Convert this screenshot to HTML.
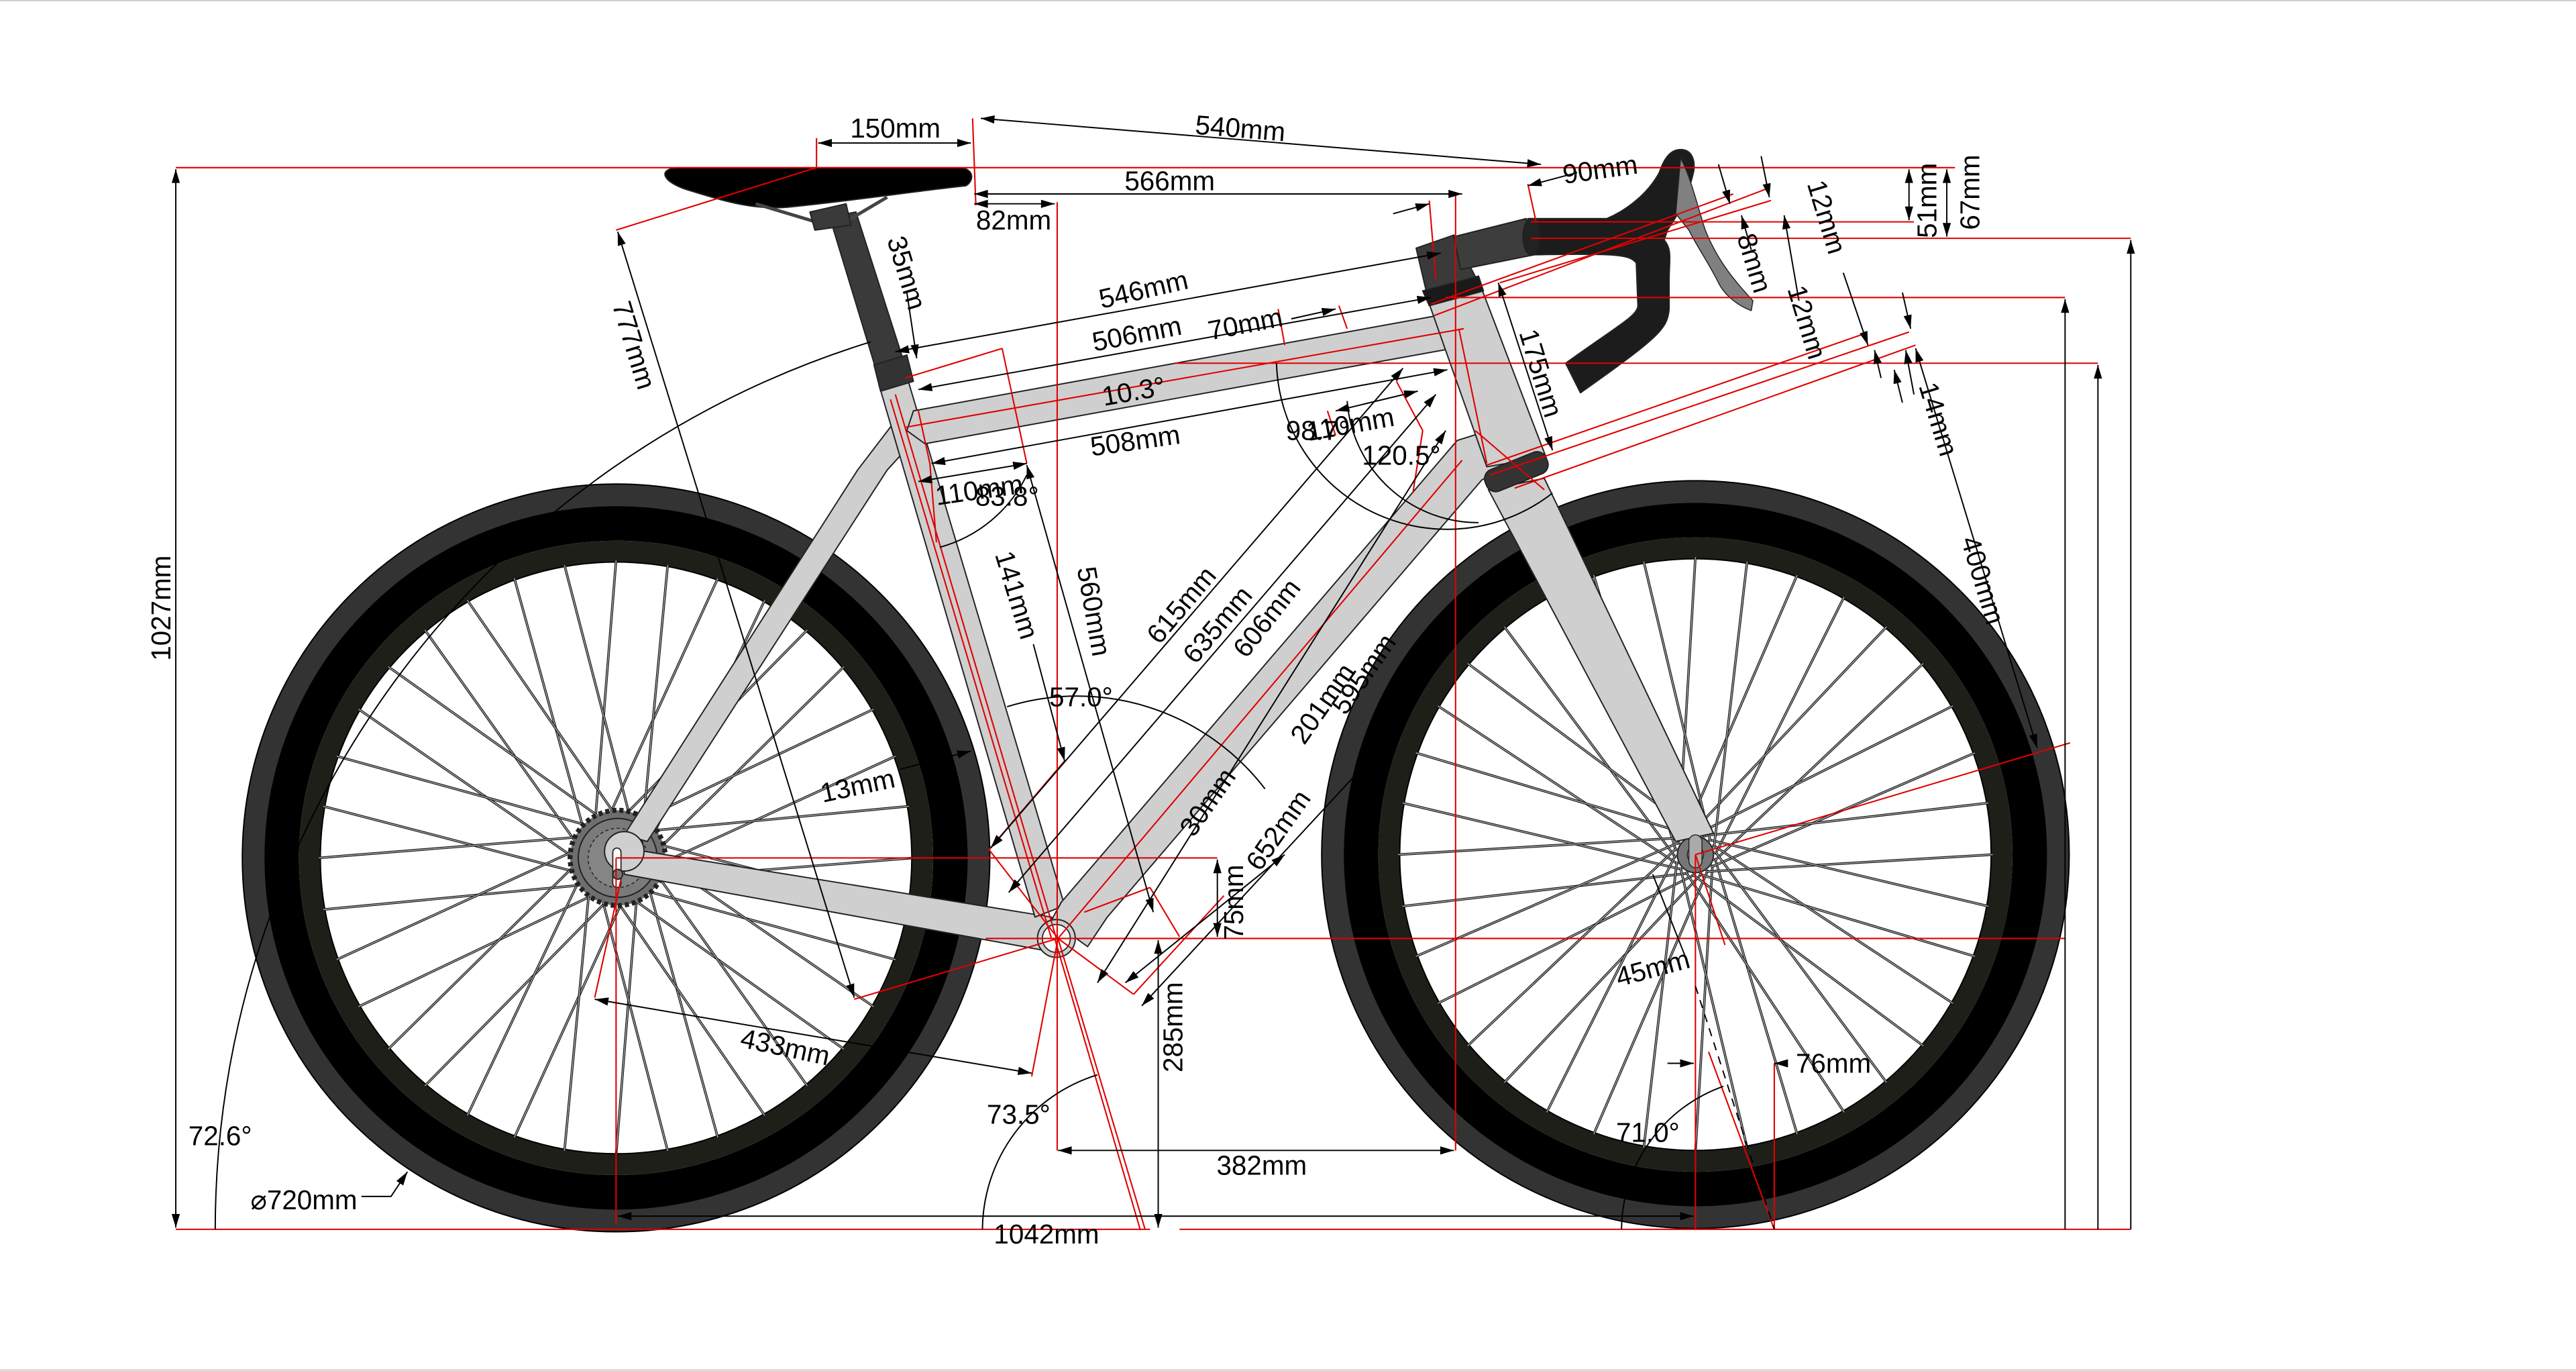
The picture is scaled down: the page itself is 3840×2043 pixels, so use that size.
<!DOCTYPE html>
<html><head><meta charset="utf-8"><style>
html,body{margin:0;padding:0;background:#fff;}
svg{display:block;}
text{font-family:"Liberation Sans",Arial,sans-serif;font-size:16.5px;fill:#000;}
</style></head><body>
<svg id="s" width="3840" height="2043" viewBox="0 0 1568 834.2" xmlns="http://www.w3.org/2000/svg">
<defs>
<marker id="a" viewBox="0 0 10 6" refX="10" refY="3" markerWidth="9" markerHeight="5" orient="auto-start-reverse" markerUnits="userSpaceOnUse"><path d="M0,0 L10,3 L0,6 Z" fill="#000"/></marker>
</defs>
<rect width="1568" height="834.2" fill="#fff"/>
<line x1="0" y1="0.4" x2="1568" y2="0.4" stroke="#d0d0d0" stroke-width="0.8"/>
<line x1="0" y1="833.6" x2="1568" y2="833.6" stroke="#d0d0d0" stroke-width="0.8"/>

<g>
<circle cx="375" cy="522" r="220.5" fill="none" stroke="#333" stroke-width="14"/>
<circle cx="375" cy="522" r="203.5" fill="none" stroke="#000" stroke-width="21"/>
<circle cx="375" cy="522" r="186.5" fill="none" stroke="#1f1f1a" stroke-width="13"/>
<circle cx="375" cy="522" r="227.5" fill="none" stroke="#000" stroke-width="0.8"/>
<circle cx="375" cy="522" r="180" fill="none" stroke="#000" stroke-width="0.8"/>
<circle cx="1032" cy="520" r="220.5" fill="none" stroke="#333" stroke-width="14"/>
<circle cx="1032" cy="520" r="203.5" fill="none" stroke="#000" stroke-width="21"/>
<circle cx="1032" cy="520" r="186.5" fill="none" stroke="#1f1f1a" stroke-width="13"/>
<circle cx="1032" cy="520" r="227.5" fill="none" stroke="#000" stroke-width="0.8"/>
<circle cx="1032" cy="520" r="180" fill="none" stroke="#000" stroke-width="0.8"/>
</g>
<g id="spk"></g>

<circle cx="376" cy="522" r="29" fill="#6e6e6e" stroke="#222" stroke-width="3" stroke-dasharray="2.5 1.8"/>
<circle cx="376" cy="522" r="24" fill="#7a7a7a" stroke="#222" stroke-width="0.8"/>
<circle cx="376" cy="522" r="18" fill="#858585" stroke="#222" stroke-width="0.6" stroke-dasharray="2 1.5"/>
<circle cx="1032" cy="520" r="11" fill="#777" stroke="#222" stroke-width="0.8"/>
<circle cx="1032" cy="520" r="5" fill="#999" stroke="#222" stroke-width="0.6"/>

<g stroke="#222" stroke-width="0.8" stroke-linejoin="round">
<polygon points="380,508 522,286 548,252 562,262 540,286 394,512" fill="#cfcfcf"/>
<polygon points="380,516 640,558 645,580 380,532" fill="#cfcfcf"/>
<polygon points="535,234 552,229 648,551 630,558" fill="#cfcfcf"/>
<polygon points="640,560 646,549 887,268 906,262 916,285 902,292 674,558 662,576" fill="#cfcfcf"/>
<polygon points="556,250 875,192 888,200 884,212 563,270 552,262" fill="#cfcfcf"/>
<polygon points="870,185 902,176 941,278 905,284" fill="#cfcfcf"/>
<polygon points="906,298 940,291 1043,507 1020,512" fill="#cfcfcf"/>
<polygon points="862,151 885,143 902,176 870,185" fill="#3a3a3a"/>
<polygon points="866,177 900,168 903,177 870,186" fill="#1a1a1a"/>
<rect x="903" y="280" width="40" height="14" rx="6" transform="rotate(-22 923 287)" fill="#333"/>
<polygon points="505,132 521,129 553,229 536,234" fill="#3a3a3a"/>
<polygon points="532,222 552,216 556,232 536,238" fill="#333"/>
<circle cx="643" cy="571" r="11.5" fill="#cfcfcf" stroke="#222"/>
<circle cx="643" cy="571" r="8.5" fill="#fff" stroke="#222" stroke-width="0.7"/>
<circle cx="380" cy="518" r="12" fill="#cfcfcf" stroke="#222"/>
<rect x="373" y="516" width="5" height="24" rx="2.5" fill="#fff" stroke="#222" stroke-width="0.7"/>
<circle cx="376" cy="532" r="3" fill="#777"/>
<rect x="1028" y="508" width="8" height="20" rx="4" fill="#aaa" stroke="#222" stroke-width="0.6"/>
<polygon points="885,144 929,133 934,155 889,164" fill="#3d3d3d"/>
<path d="M930,133 L978,133 C990,128 1003,118 1010,105 C1013,96 1017,91 1023,91 C1029,91 1032,96 1031,104 C1028,118 1022,130 1015,140 L1013,146 C1018,152 1016,158 1016,170 L1016,188 C1015,200 1010,205 962,239 L953,221 C985,198 997,192 997,186 L996,160 C992,155 985,154 934,155 Z" fill="#1c1c1c"/>
<ellipse cx="932" cy="144" rx="5" ry="11" fill="#222"/>
<path d="M1023,96 C1030,110 1033,125 1038,140 C1046,160 1057,172 1067,183 L1066,189 C1058,186 1050,180 1046,172 C1040,160 1033,150 1028,140 L1020,130 Z" fill="#808080" stroke="#222" stroke-width="0.6"/>
<path d="M412,102 L585,102 C593,103 593,110 588,113 C560,116 520,122 480,126 C458,128 440,122 420,116 C403,111 400,103 412,102 Z" fill="#000"/>
<path d="M460,124 L500,136 L518,133 L540,120" fill="none" stroke="#444" stroke-width="2"/>
<polygon points="493,129 515,124 518,137 496,140" fill="#3a3a3a"/>
</g>

<g stroke="#e00000" stroke-width="0.85" fill="none">
<line x1="107" y1="102" x2="1190" y2="102"/>
<line x1="107" y1="748" x2="700" y2="748"/>
<line x1="718" y1="748" x2="1297" y2="748"/>
<line x1="932" y1="135" x2="1165" y2="135"/>
<line x1="932" y1="145" x2="1297" y2="145"/>
<line x1="880" y1="181" x2="1257" y2="181"/>
<line x1="715" y1="221" x2="1277" y2="221"/>
<line x1="643.5" y1="123" x2="643.5" y2="700"/>
<line x1="886" y1="117" x2="886" y2="700"/>
<line x1="375" y1="522" x2="375" y2="745"/>
<line x1="1032" y1="520" x2="1032" y2="748"/>
<line x1="375" y1="522" x2="741" y2="522"/>
<line x1="600" y1="571" x2="1257" y2="571"/>
<line x1="497" y1="102" x2="375" y2="140"/>
<line x1="497" y1="84" x2="497" y2="102"/>
<line x1="592" y1="72" x2="594" y2="125"/>
<line x1="1080" y1="647" x2="1080" y2="748"/>
<line x1="643" y1="571" x2="545" y2="240"/>
<line x1="640" y1="571" x2="542" y2="243"/>
<line x1="644" y1="571" x2="890" y2="280"/>
<line x1="644" y1="571" x2="697" y2="748"/>
<line x1="642" y1="571" x2="694" y2="748"/>
<line x1="644" y1="571" x2="628" y2="655"/>
<line x1="644" y1="571" x2="520" y2="608"/>
<line x1="644" y1="571" x2="602" y2="517"/>
<line x1="602" y1="517" x2="648" y2="463"/>
<line x1="644" y1="571" x2="690" y2="605"/>
<line x1="690" y1="605" x2="745" y2="545"/>
<line x1="660" y1="555" x2="700" y2="540"/>
<line x1="700" y1="540" x2="718" y2="570"/>
<line x1="362" y1="607" x2="378" y2="535"/>
<line x1="551" y1="230" x2="610" y2="212"/>
<line x1="610" y1="212" x2="625" y2="282"/>
<line x1="551" y1="260" x2="891" y2="200"/>
<line x1="559" y1="250" x2="566" y2="282"/>
<line x1="566" y1="282" x2="570" y2="330"/>
<line x1="871" y1="185" x2="1055" y2="118"/>
<line x1="873" y1="192" x2="1075" y2="115"/>
<line x1="913" y1="172" x2="1078" y2="122"/>
<line x1="905" y1="283" x2="1135" y2="203"/>
<line x1="907" y1="289" x2="1162" y2="202"/>
<line x1="922" y1="297" x2="1166" y2="210"/>
<line x1="898" y1="262" x2="940" y2="298"/>
<line x1="888" y1="200" x2="905" y2="282"/>
<line x1="930" y1="112" x2="935" y2="135"/>
<line x1="870" y1="122" x2="874" y2="170"/>
<line x1="1032" y1="520" x2="1260" y2="452"/>
<line x1="1032" y1="520" x2="1050" y2="575"/>
<line x1="1040" y1="640" x2="1080" y2="748"/>
<line x1="808" y1="250" x2="813" y2="265"/>
<line x1="778" y1="188" x2="782" y2="210"/>
<line x1="815" y1="186" x2="820" y2="200"/>
<line x1="850" y1="232" x2="866" y2="262"/>
<line x1="866" y1="262" x2="860" y2="300"/>
</g>

<g stroke="#000" stroke-width="0.8" fill="none" marker-start="url(#a)" marker-end="url(#a)">
<line x1="498" y1="87" x2="591" y2="87"/>
<line x1="597" y1="72" x2="938" y2="100"/>
<line x1="593" y1="118" x2="890" y2="118"/>
<line x1="593" y1="124" x2="642" y2="124"/>
<line x1="107" y1="103" x2="107" y2="747"/>
<line x1="1162" y1="103" x2="1162" y2="134"/>
<line x1="1185" y1="103" x2="1185" y2="144"/>
<line x1="376" y1="141" x2="520" y2="607"/>
<line x1="362" y1="608" x2="628" y2="653"/>
<line x1="705" y1="572" x2="705" y2="747"/>
<line x1="644" y1="700" x2="885" y2="700"/>
<line x1="741" y1="523" x2="741" y2="570"/>
<line x1="376" y1="740" x2="1031" y2="740"/>
<line x1="545" y1="214" x2="877" y2="154"/>
<line x1="559" y1="237" x2="871" y2="181"/>
<line x1="567" y1="282" x2="881" y2="225"/>
<line x1="559" y1="293" x2="625" y2="282"/>
<line x1="603" y1="516" x2="854" y2="224"/>
<line x1="614" y1="543" x2="874" y2="240"/>
<line x1="668" y1="598" x2="880" y2="262"/>
<line x1="912" y1="172" x2="945" y2="274"/>
<line x1="1166" y1="212" x2="1240" y2="455"/>
<line x1="625" y1="283" x2="702" y2="555"/>
<line x1="685" y1="598" x2="782" y2="520"/>
<line x1="695" y1="612" x2="845" y2="450"/>
<line x1="813" y1="250" x2="863" y2="238"/>
</g>
<g stroke="#000" stroke-width="0.8" fill="none">
<line x1="1297" y1="146" x2="1297" y2="748" marker-start="url(#a)"/>
<line x1="1257" y1="182" x2="1257" y2="748" marker-start="url(#a)"/>
<line x1="1277" y1="222" x2="1277" y2="748" marker-start="url(#a)"/>
<line x1="960" y1="105" x2="930" y2="113" marker-end="url(#a)"/>
<line x1="848" y1="130" x2="870" y2="124" marker-end="url(#a)"/>
<line x1="786" y1="194" x2="813" y2="188" marker-end="url(#a)"/>
<line x1="552" y1="178" x2="558" y2="218" marker-end="url(#a)"/>
<line x1="629" y1="392" x2="648" y2="463" marker-end="url(#a)"/>
<line x1="1046" y1="100" x2="1053" y2="124" marker-end="url(#a)"/>
<line x1="1072" y1="95" x2="1077" y2="120" marker-end="url(#a)"/>
<line x1="1066" y1="152" x2="1060" y2="131" marker-end="url(#a)"/>
<line x1="1095" y1="183" x2="1086" y2="131" marker-end="url(#a)"/>
<line x1="1122" y1="166" x2="1137" y2="210" marker-end="url(#a)"/>
<line x1="1158" y1="178" x2="1163" y2="200" marker-end="url(#a)"/>
<line x1="1145" y1="230" x2="1141" y2="213" marker-end="url(#a)"/>
<line x1="1158" y1="245" x2="1153" y2="225" marker-end="url(#a)"/>
<line x1="1165" y1="240" x2="1160" y2="213" marker-end="url(#a)"/>
<line x1="548" y1="468" x2="591" y2="457" marker-end="url(#a)"/>
<line x1="1006" y1="532" x2="1027" y2="585"/>
<line x1="1085" y1="647" x2="1080" y2="647" marker-end="url(#a)"/>
<line x1="1015" y1="647" x2="1031" y2="647" marker-end="url(#a)"/>
<polyline points="220,728 238,728 248,713" marker-end="url(#a)"/>
<line x1="1032" y1="600" x2="1080" y2="748" stroke-dasharray="5 4"/>
<path d="M131,748 A566,566 0 0 1 530,208"/>
<path d="M598,748 A99,99 0 0 1 668,654"/>
<path d="M987,748 A93,93 0 0 1 1049,661"/>
<path d="M613,430 A144,144 0 0 1 770,480"/>
<path d="M572,333 A83,83 0 0 0 625,289"/>
<path d="M777,221 A104,104 0 0 0 945,300"/>
<path d="M820,244 A80,80 0 0 0 900,318"/>
</g>

<g text-anchor="middle" dominant-baseline="central">
<text x="545" y="78">150mm</text>
<text x="755" y="78" transform="rotate(4.7 755 78)">540mm</text>
<text x="712" y="110">566mm</text>
<text x="617" y="134">82mm</text>
<text x="974" y="103" transform="rotate(-8 974 103)">90mm</text>
<text x="1173" y="122" transform="rotate(-90 1173 122)">51mm</text>
<text x="1199" y="117" transform="rotate(-90 1199 117)">67mm</text>
<text x="98" y="370" transform="rotate(-90 98 370)">1027mm</text>
<text x="386" y="210" transform="rotate(73 386 210)">777mm</text>
<text x="552" y="166" transform="rotate(73 552 166)">35mm</text>
<text x="696" y="176" transform="rotate(-13 696 176)">546mm</text>
<text x="692" y="203" transform="rotate(-11 692 203)">506mm</text>
<text x="758" y="197" transform="rotate(-11 758 197)">70mm</text>
<text x="690" y="238" transform="rotate(-10 690 238)">10.3°</text>
<text x="691" y="268" transform="rotate(-8 691 268)">508mm</text>
<text x="596" y="298" transform="rotate(-8 596 298)">110mm</text>
<text x="613" y="302">83.8°</text>
<text x="619" y="362" transform="rotate(73 619 362)">141mm</text>
<text x="666" y="372" transform="rotate(80 666 372)">560mm</text>
<text x="719" y="368" transform="rotate(-50 719 368)">615mm</text>
<text x="741" y="380" transform="rotate(-50 741 380)">635mm</text>
<text x="771" y="376" transform="rotate(-52 771 376)">606mm</text>
<text x="802" y="262">98.7°</text>
<text x="822" y="258" transform="rotate(-10 822 258)">110mm</text>
<text x="853" y="277">120.5°</text>
<text x="938" y="227" transform="rotate(73 938 227)">175mm</text>
<text x="1112" y="132" transform="rotate(73 1112 132)">12mm</text>
<text x="1068" y="160" transform="rotate(73 1068 160)">8mm</text>
<text x="1100" y="196" transform="rotate(73 1100 196)">12mm</text>
<text x="1180" y="255" transform="rotate(73 1180 255)">14mm</text>
<text x="1207" y="353" transform="rotate(73 1207 353)">400mm</text>
<text x="658" y="424">57.0°</text>
<text x="522" y="478" transform="rotate(-12 522 478)">13mm</text>
<text x="805" y="428" transform="rotate(-55 805 428)">201mm</text>
<text x="830" y="410" transform="rotate(-55 830 410)">595mm</text>
<text x="735" y="488" transform="rotate(-55 735 488)">30mm</text>
<text x="778" y="505" transform="rotate(-55 778 505)">652mm</text>
<text x="751" y="549" transform="rotate(-90 751 549)">75mm</text>
<text x="714" y="625" transform="rotate(-90 714 625)">285mm</text>
<text x="478" y="637" transform="rotate(12 478 637)">433mm</text>
<text x="620" y="678">73.5°</text>
<text x="768" y="709">382mm</text>
<text x="637" y="751">1042mm</text>
<text x="134" y="691">72.6°</text>
<text x="185" y="730">⌀720mm</text>
<text x="1006" y="589" transform="rotate(-15 1006 589)">45mm</text>
<text x="1116" y="647">76mm</text>
<text x="1003" y="689">71.0°</text>
</g>
</svg>
<script>
(function(){
var g=document.getElementById('spk'),ns='http://www.w3.org/2000/svg';
function w(cx,cy,hr){
 for(var i=0;i<36;i++){
  var a=i*Math.PI/18, b=a+((i%2)?1:-1)*Math.PI/3;
  var x1=cx+hr*Math.cos(a),y1=cy+hr*Math.sin(a),x2=cx+181*Math.cos(b),y2=cy+181*Math.sin(b);
  var l=document.createElementNS(ns,'line');
  l.setAttribute('x1',x1);l.setAttribute('y1',y1);l.setAttribute('x2',x2);l.setAttribute('y2',y2);
  l.setAttribute('stroke','#1e1e1e');l.setAttribute('stroke-width','1.5');g.appendChild(l);
  var m=l.cloneNode();m.setAttribute('stroke','#b5b5b5');m.setAttribute('stroke-width','0.5');g.appendChild(m);
 }
}
w(375,522,16);w(1032,520,12);
})();
</script>
</body></html>
